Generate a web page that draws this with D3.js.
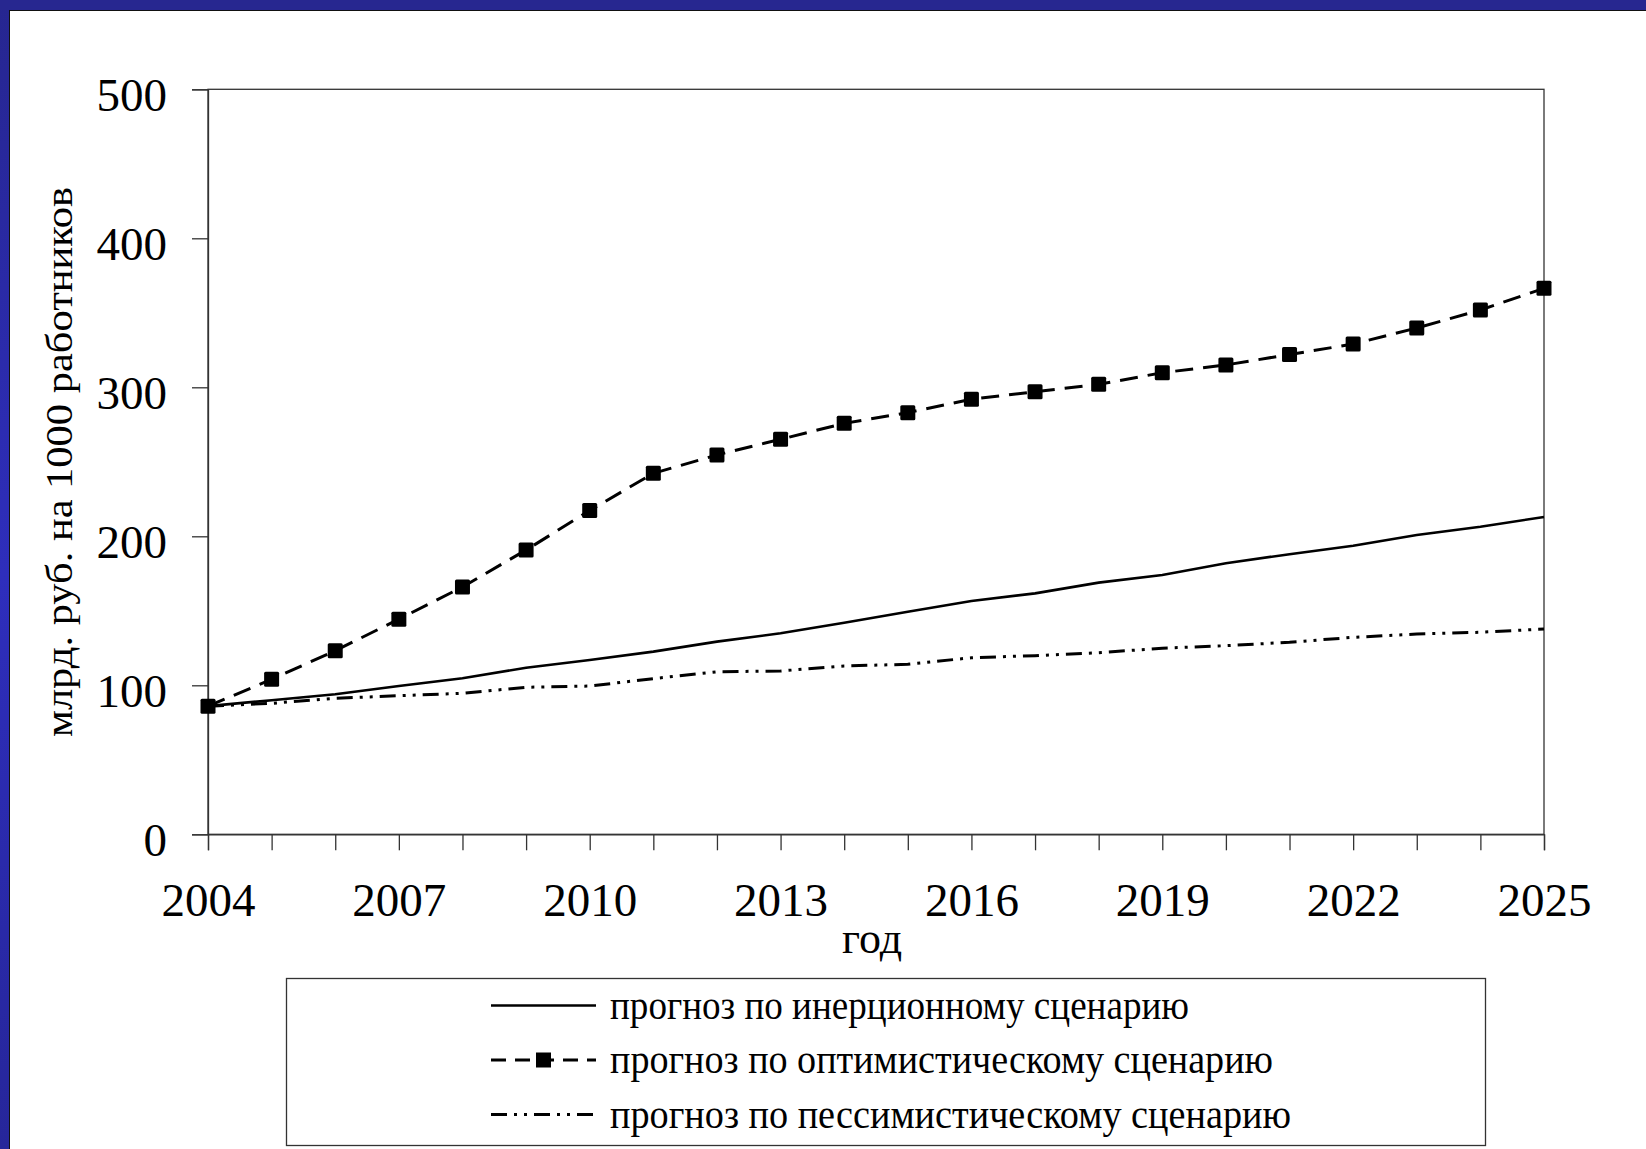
<!DOCTYPE html>
<html>
<head>
<meta charset="utf-8">
<script src="https://cdn.jsdelivr.net/npm/d3@7"></script>
<style>
html,body{margin:0;padding:0;background:#fff;}
svg{display:block;}
text{font-family:"Liberation Serif","Times New Roman",serif;fill:#000;}
</style>
</head>
<body>
<script>
const years = d3.range(2004, 2026);
const yearTickLabels = [2004, 2007, 2010, 2013, 2016, 2019, 2022, 2025];
const valueTicks = [0, 100, 200, 300, 400, 500];
const inertial = [86, 90, 94, 99.5, 104.7, 111.8, 117, 122.6, 129.3, 134.9, 142, 149.4, 156.6, 161.7, 168.9, 174, 181.9, 188, 193.7, 200.9, 206.4, 213];
const optimistic = [86, 104, 123.2, 144.4, 166, 190.8, 217.3, 242.3, 254.6, 265.1, 275.8, 283, 292, 297, 302, 309.8, 315, 322, 329, 339.8, 351.9, 366.4];
const pessimistic = [86, 87.9, 91.3, 93, 94.6, 98.7, 99.5, 104.5, 109.1, 109.6, 113, 114.1, 118.5, 119.9, 121.9, 124.9, 126.6, 128.9, 132.2, 134.4, 135.6, 137.8];
const seriesNames = ["прогноз по инерционному сценарию", "прогноз по оптимистическому сценарию", "прогноз по пессимистическому сценарию"];
const yTitle = "млрд. руб. на 1000 работников";
const xTitle = "год";

const W = 1646, H = 1149;
const svg = d3.select("body").append("svg").attr("width", W).attr("height", H);

// blue slide frame
const defs = svg.append("defs");
const g1 = defs.append("linearGradient").attr("id", "blueV").attr("x1", 0).attr("y1", 0).attr("x2", 0).attr("y2", 1);
g1.append("stop").attr("offset", "0%").attr("stop-color", "#262690");
g1.append("stop").attr("offset", "50%").attr("stop-color", "#2e2ebc");
g1.append("stop").attr("offset", "100%").attr("stop-color", "#26269a");
svg.append("rect").attr("x", 0).attr("y", 0).attr("width", W).attr("height", H).attr("fill", "url(#blueV)");
svg.append("rect").attr("x", 0).attr("y", 0).attr("width", W).attr("height", 10).attr("fill", "#272790");
svg.append("rect").attr("x", 9.5).attr("y", 10.5).attr("width", W).attr("height", H).attr("fill", "#fff").attr("stroke", "#111").attr("stroke-width", 1);

const m = {left: 208, right: 1544, top: 89.3, bottom: 834.3};
const x = d3.scaleLinear().domain([2004, 2025]).range([m.left, m.right]);
const y = d3.scaleLinear().domain([0, 500]).range([m.bottom, m.top]);

// plot border
svg.append("rect").attr("x", m.left).attr("y", m.top).attr("width", m.right - m.left).attr("height", m.bottom - m.top)
  .attr("fill", "none").attr("stroke", "#333").attr("stroke-width", 1.3);

// y axis
const yAxis = d3.axisLeft(y).tickValues(valueTicks).tickSize(16).tickPadding(0).tickFormat(d3.format("d"));
const gy = svg.append("g").attr("transform", `translate(${m.left},0)`).call(yAxis);
gy.select(".domain").attr("stroke", "#333").attr("stroke-width", 1.3);
gy.selectAll(".tick line").attr("stroke", "#333").attr("stroke-width", 1.3);
gy.selectAll(".tick text").attr("x", -41).attr("dy", null).attr("y", 21)
  .attr("text-anchor", "end").style("font-size", "47px").style("font-family", "'Liberation Serif','Times New Roman',serif");

// x axis
const xAxis = d3.axisBottom(x).tickValues(years).tickSize(16).tickPadding(0)
  .tickFormat(d => yearTickLabels.includes(d) ? String(d) : "");
const gx = svg.append("g").attr("transform", `translate(0,${m.bottom})`).call(xAxis);
gx.select(".domain").attr("stroke", "#333").attr("stroke-width", 1.3);
gx.selectAll(".tick line").attr("stroke", "#333").attr("stroke-width", 1.3);
gx.selectAll(".tick text").attr("y", 82).attr("dy", null)
  .style("font-size", "47px").style("font-family", "'Liberation Serif','Times New Roman',serif");

// axis titles
svg.append("text").attr("x", (m.left + m.right) / 2 - 4).attr("y", 953).attr("text-anchor", "middle")
  .style("font-size", "44px").text(xTitle);
svg.append("text").attr("transform", `translate(72,462) rotate(-90)`).attr("text-anchor", "middle")
  .style("font-size", "37px").attr("textLength", 550).attr("lengthAdjust", "spacingAndGlyphs").text(yTitle);

// lines
const line = d3.line().x((d, i) => x(years[i])).y(d => y(d));
const styles = [
  {data: inertial, dash: null, width: 2.6, marker: false},
  {data: optimistic, dash: "18,10", width: 3, marker: true},
  {data: pessimistic, dash: "16,7,3,7,3,7", width: 3, marker: false}
];
styles.forEach(s => {
  svg.append("path").datum(s.data).attr("d", line).attr("fill", "none").attr("stroke", "#000")
    .attr("stroke-width", s.width).attr("stroke-dasharray", s.dash);
});
svg.append("g").selectAll("rect").data(optimistic).join("rect")
  .attr("x", (d, i) => x(years[i]) - 7.5).attr("y", d => y(d) - 7.5)
  .attr("width", 15).attr("height", 15).attr("rx", 1.5).attr("fill", "#000");

// legend
const lg = svg.append("g");
lg.append("rect").attr("x", 286.5).attr("y", 978.5).attr("width", 1199).attr("height", 167)
  .attr("fill", "#fff").attr("stroke", "#333").attr("stroke-width", 1.3);
const rowY = [1005.5, 1060, 1114.5];
const textLen = [579, 663, 681];
styles.forEach((s, i) => {
  lg.append("line").attr("x1", 491).attr("x2", 596).attr("y1", rowY[i]).attr("y2", rowY[i])
    .attr("stroke", "#000").attr("stroke-width", s.width).attr("stroke-dasharray", s.dash ? (i === 1 ? "15,9" : "16,7,3,7,3,7") : null);
  if (s.marker) {
    lg.append("rect").attr("x", 543.5 - 7.5).attr("y", rowY[i] - 7.5).attr("width", 15).attr("height", 15).attr("fill", "#000");
  }
  lg.append("text").attr("x", 610).attr("y", rowY[i] + 13).style("font-size", "40px")
    .attr("textLength", textLen[i]).attr("lengthAdjust", "spacingAndGlyphs").text(seriesNames[i]);
});
</script>
</body>
</html>
